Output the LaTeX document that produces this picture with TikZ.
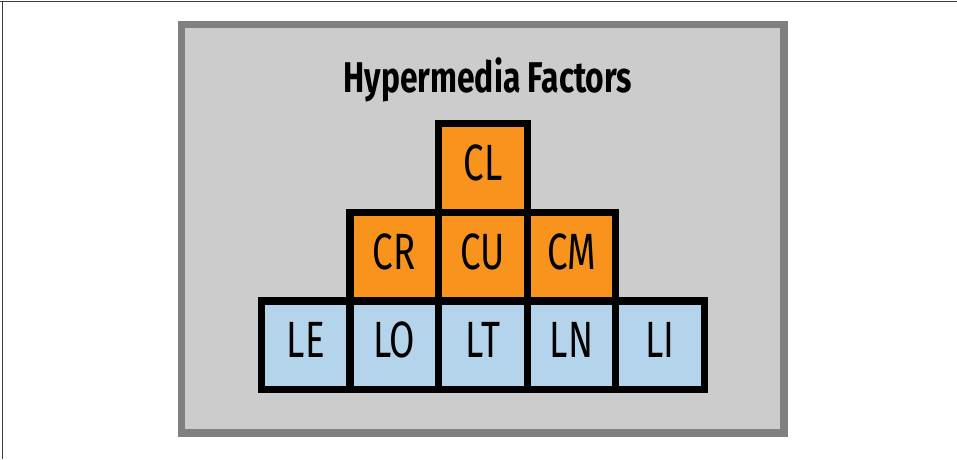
\documentclass[tikz,border=0pt]{standalone}
\usepackage{fontspec}
\newfontfamily\titlefont[FakeStretch=0.74]{Fira Sans}
\newfontfamily\cellfont[FakeStretch=0.72]{Fira Sans}
\definecolor{panelfill}{RGB}{204,204,204}
\definecolor{paneledge}{RGB}{128,128,128}
\definecolor{cellorange}{RGB}{248,148,30}
\definecolor{cellblue}{RGB}{179,212,234}
\definecolor{framegray}{RGB}{60,60,60}
\tikzset{
  panel/.style={draw=paneledge, fill=panelfill, line width=7.3pt, inner sep=0pt},
  cellbox/.style={draw=black, line width=7.3pt, minimum width=88.6pt, minimum height=88.6pt,
    inner sep=0pt, font=\cellfont\fontsize{51}{55}\selectfont, text height=32pt, text depth=7pt},
  cbox/.style={cellbox, fill=cellorange},
  lbox/.style={cellbox, fill=cellblue},
  titletext/.style={font=\titlefont\bfseries\fontsize{43}{48}\selectfont, anchor=base, inner sep=0pt}
}
\begin{document}
\begin{tikzpicture}[x=1pt,y=-1pt]
\useasboundingbox (0,0) rectangle (957,459);
\coordinate (tl) at (0,1.5);
\coordinate (tr) at (957,1.5);
\coordinate (lt) at (2.5,1.5);
\coordinate (lb) at (2.5,459);
\draw[framegray, line width=1.2pt] (tl) -- (tr);
\draw[framegray, line width=1.2pt] (lt) -- (lb);
\node[panel, minimum width=602.3pt, minimum height=408.3pt] (panel) at (482.85,228.85) {};
\node[titletext] (title) at (487.9,92.3) {Hypermedia Factors};
% bottom row
\node[lbox] (LE) at (305.7,345.2) {LE};
\node[lbox] (LO) at (394.3,345.2) {LO};
\node[lbox] (LT) at (482.9,345.2) {LT};
\node[lbox] (LN) at (571.5,345.2) {LN};
\node[lbox] (LI) at (660.1,345.2) {LI};
% middle row
\node[cbox] (CR) at (394.3,256.6) {CR};
\node[cbox] (CU) at (482.9,256.6) {CU};
\node[cbox] (CM) at (571.5,256.6) {CM};
% top
\node[cbox] (CL) at (482.9,168) {CL};
\end{tikzpicture}
\end{document}
